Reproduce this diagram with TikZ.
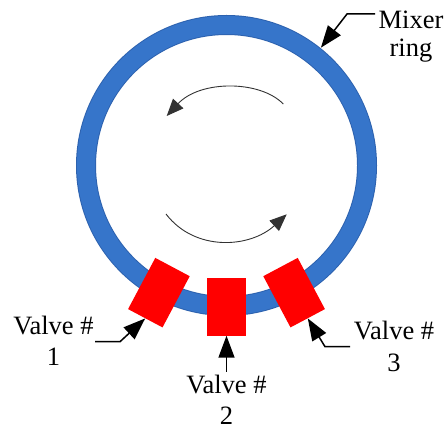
\documentclass[tikz,border=0pt]{standalone}
\usepackage{fontspec}
\newfontfamily\lserif{LiberationSerif}[Extension=.ttf, UprightFont=*-Regular]
\usetikzlibrary{arrows.meta,calc}
\definecolor{ringblue}{RGB}{54,117,202}
\definecolor{ringedge}{RGB}{45,98,175}
\definecolor{valvered}{RGB}{255,0,0}
\definecolor{curvegray}{RGB}{50,50,50}
\tikzset{
  valvebox/.style={fill=valvered, draw=none, minimum width=39pt, minimum height=58pt, inner sep=0pt},
  lbl/.style={font=\lserif\fontsize{26.5}{31}\selectfont, align=center, inner sep=0pt, anchor=north},
  pointer/.style={draw=black, line width=1.5pt, -{Triangle[length=22pt,width=16pt]}},
  flow/.style={draw=curvegray, line width=0.9pt, -{Triangle[length=17pt,width=14pt]}}
}
\begin{document}
\begin{tikzpicture}[x=1pt,y=1pt]
\useasboundingbox (0,0) rectangle (446,429);
% ring
\coordinate (c) at (226.5,263.5);
\draw[ringedge, line width=20pt] (c) circle (140.5);
\draw[ringblue, line width=18pt] (c) circle (140.5);
% valves
\node[valvebox, rotate=-28] (v1) at ($(c)+(242:144)$) {};
\node[valvebox] (v2) at ($(c)+(270:141)$) {};
\node[valvebox, rotate=28] (v3) at ($(c)+(298:144)$) {};
% flow arrows
\draw[flow] (283.3,325) .. controls (260,349) and (200,349) .. (166.7,313);
\draw[flow] (166,215) .. controls (195,177) and (250,181) .. (286.7,214.7);
% labels
\node[lbl] (lab1) at (53.5,112.8) {Valve \#\\1};
\node[lbl] (lab2) at (226.5,54) {Valve \#\\2};
\node[lbl, font=\lserif\fontsize{26.5}{32}\selectfont] (lab3) at (394,108.1) {Valve \#\\3};
\node[lbl, font=\lserif\fontsize{26.5}{28}\selectfont] (labm) at (411,418.1) {Mixer\\ring};
% pointers
\coordinate (p1a) at (95,87.3);
\coordinate (p1b) at (120,87.3);
\draw[pointer] (p1a) -- (p1b) -- (v1.south);
\coordinate (p2a) at (226.5,57.3);
\draw[pointer] (p2a) -- (v2.south);
\coordinate (p3a) at (350,82.3);
\coordinate (p3b) at (325,82.3);
\draw[pointer] (p3a) -- (p3b) -- (v3.south);
\coordinate (pma) at (375,415);
\coordinate (pmb) at (347,415);
\coordinate (pmt) at ($(c)+(51.3:151)$);
\draw[pointer] (pma) -- (pmb) -- (pmt);
\end{tikzpicture}
\end{document}
